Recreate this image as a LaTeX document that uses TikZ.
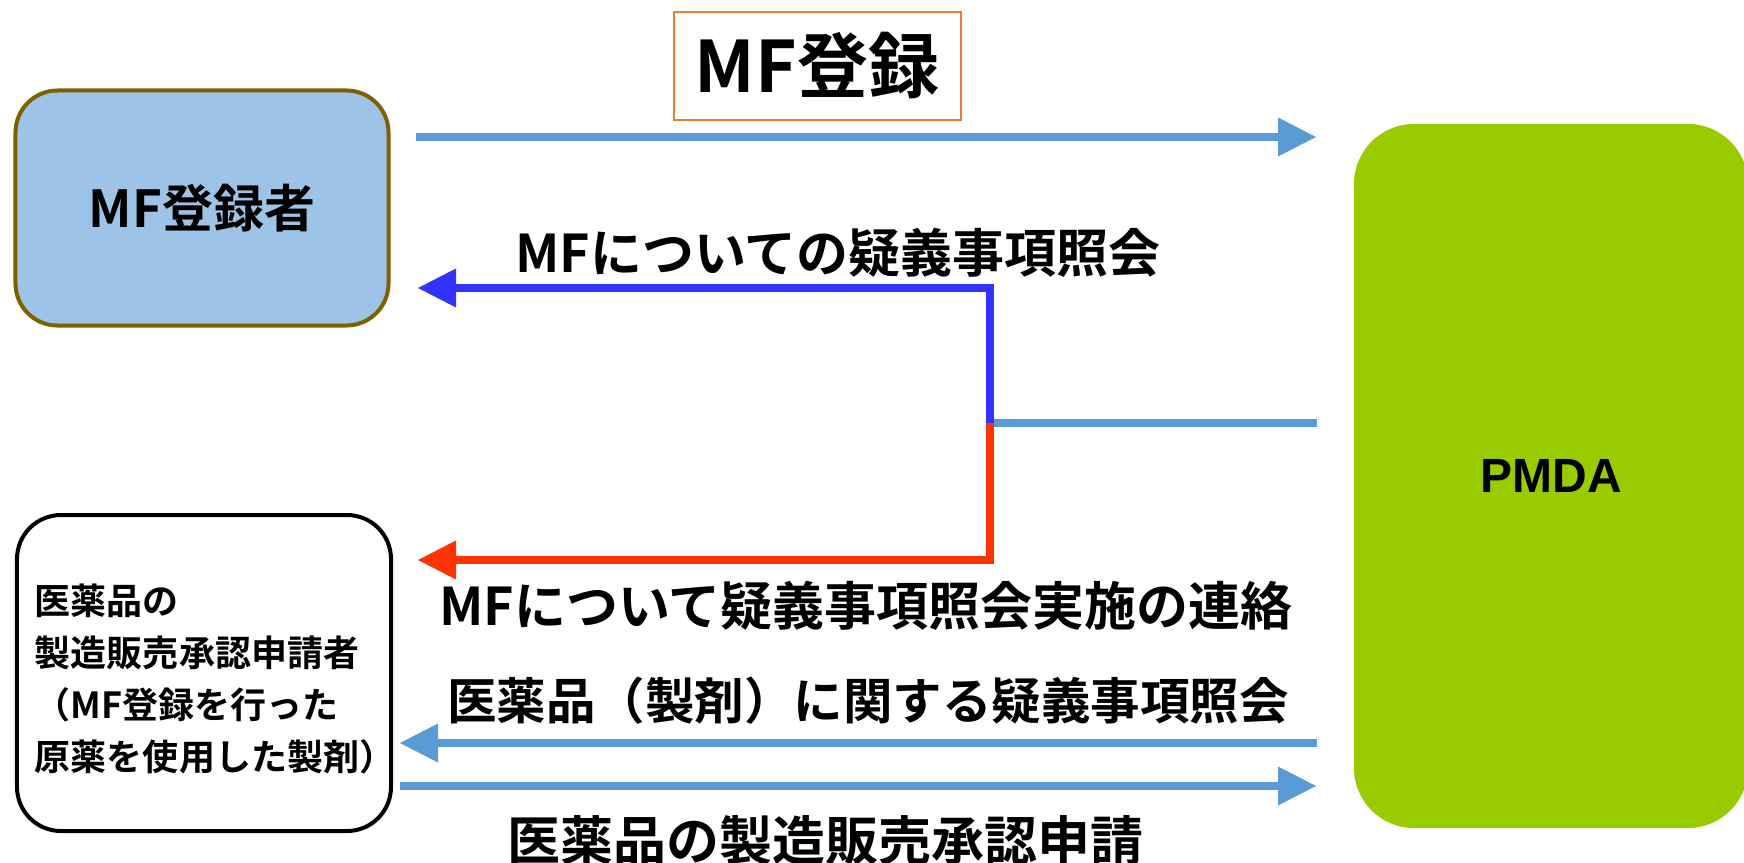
\documentclass[tikz,border=0pt]{standalone}
\usepackage{fontspec}
\setmainfont{Noto Sans CJK JP}[BoldFont={Noto Sans CJK JP Bold}]
\newfontfamily\pmdafont{Liberation Sans}
\usepackage{tikz}
\usetikzlibrary{positioning}
\usetikzlibrary{arrows.meta}
\definecolor{boxblue}{HTML}{9DC3E6}
\definecolor{boxbrown}{HTML}{7F6000}
\definecolor{lineblue}{HTML}{5B9BD5}
\definecolor{qblue}{HTML}{3333FF}
\definecolor{qred}{HTML}{FF3300}
\definecolor{pmdagreen}{HTML}{99CC00}
\definecolor{titleorange}{HTML}{ED7D31}
\tikzset{
  party/.style={draw, rectangle, line width=4bp},
  lbl/.style={inner sep=0pt, font=\fontsize{#1bp}{#1bp}\selectfont\bfseries},
  tip/.style={-{Triangle[length=38bp,width=39bp,line width=0pt]}},
  flow/.style={line width=8.5bp, draw=lineblue, tip},
  query/.style={line width=7.5bp, tip},
}

\begin{document}
\begin{tikzpicture}[x=1bp,y=-1bp]
\useasboundingbox (0,0) rectangle (1744,863);
% parties
\node[party, draw=boxbrown, fill=boxblue, rounded corners=42bp, minimum width=373bp, minimum height=235bp, lbl=51] (reg) at (202,208) {MF登録者};
\node[party, rounded corners=44bp, minimum width=374bp, minimum height=316bp] (appl) at (204,673) {};
\node[text width=338bp, align=left, inner sep=0pt, font=\fontsize{36bp}{52bp}\selectfont\bfseries] (appltxt) at ([yshift=-6bp]appl.center) {医薬品の\\製造販売承認申請者\\（MF登録を行った\\原薬を使用した製剤）};
\node[fill=pmdagreen, rounded corners=60bp, minimum width=394bp, minimum height=704bp, font=\pmdafont\fontsize{48bp}{50bp}\selectfont\bfseries] (pmda) at (1551,476) {PMDA};
\node[draw=titleorange, line width=2bp, minimum width=287bp, minimum height=108bp, lbl=71] (mfreg) at (817,66) {MF登録};
% arrow ends
\coordinate (r1) at (416,137);
\coordinate (p1) at (1316,137);
\coordinate (jct) at (990,423);
\coordinate (p2) at (1317,423);
\coordinate (q1) at (418,288);
\coordinate (q2) at (418,560);
\coordinate (p3) at (1317,743);
\coordinate (a3) at (400,743);
\coordinate (a4) at (400,786);
\coordinate (p4) at (1316,786);
\draw[flow] (r1) -- (p1);
\draw[line width=7.5bp, lineblue] (jct) -- (p2);
\draw[query, draw=qblue] (jct) |- (q1);
\draw[query, draw=qred] (jct) |- (q2);
\draw[flow] (p3) -- (a3);
\draw[flow] (a4) -- (p4);
% labels
\node[lbl=52] (qmf) at (838,253) {MFについての疑義事項照会};
\node[lbl=52] (qnote) at (866,606) {MFについて疑義事項照会実施の連絡};
\node[lbl=49.5] (qdrug) at (868,701) {医薬品（製剤）に関する疑義事項照会};
\node[lbl=53] (appreq) at (825,840) {医薬品の製造販売承認申請};
\end{tikzpicture}
\end{document}
